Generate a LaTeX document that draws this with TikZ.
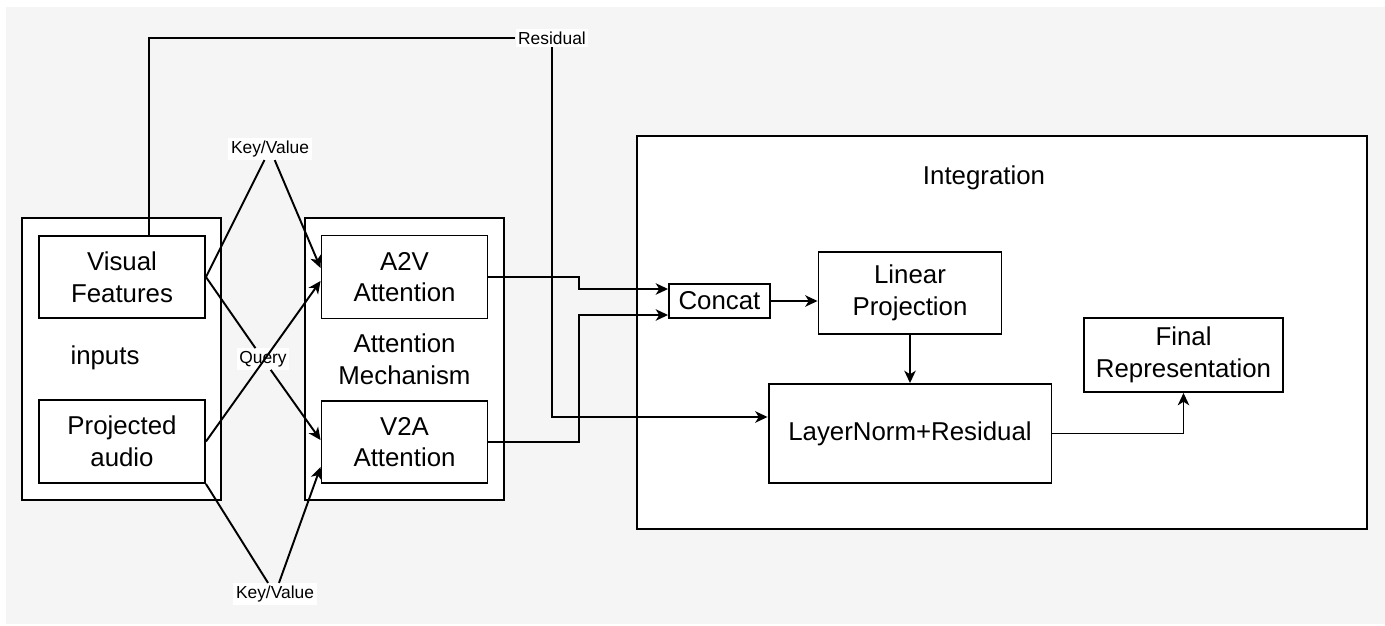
\documentclass[tikz,border=0pt]{standalone}
\usepackage{fontspec}
\setmainfont{Liberation Sans}
\usetikzlibrary{
  calc,
  arrows.meta
}
\definecolor{backdrop}{HTML}{F5F5F5}

\begin{document}
\begin{tikzpicture}[x=0.02cm, y=-0.02cm]
  \tikzset{
    block/.style = {draw, fill=white, line width=1.1pt, align=center,
      inner sep=0pt, font=\fontsize{14.7}{18}\selectfont},
    plain/.style = {align=center, inner sep=0pt,
      font=\fontsize{14.7}{18}\selectfont},
    tag/.style = {fill=white, inner sep=1.5pt,
      font=\fontsize{9.9}{12}\selectfont},
    conn/.style = {line width=1.1pt},
    arr/.style = {conn, -{Stealth[length=7pt,width=6.5pt,inset=2pt]}},
  }
  % page and grey backdrop
  \useasboundingbox (0,0) rectangle (1385,625);
  \fill[white] (0,0) rectangle (1385,625);
  \fill[backdrop] (6,7) rectangle (1385,624);

  % group boxes
  \node[block, minimum width=3.98cm, minimum height=5.64cm] (inbox) at (121.5,359) {};
  \node[block, minimum width=3.98cm, minimum height=5.64cm] (attbox) at (404.5,359) {};
  \node[block, minimum width=14.6cm, minimum height=7.86cm] (integ) at (1002,332.5) {};

  % inputs
  \node[block, minimum width=3.32cm, minimum height=1.64cm] (vf) at (122,277) {Visual\\Features};
  \node[block, minimum width=3.32cm, minimum height=1.66cm] (pa) at (122,441.5) {Projected\\audio};
  \node[plain] (intext) at (105,358) {inputs};

  % attention
  \node[block, minimum width=3.32cm, minimum height=1.66cm] (a2v) at (404.5,277) {A2V\\Attention};
  \node[block, minimum width=3.32cm, minimum height=1.64cm] (v2a) at (404.5,442) {V2A\\Attention};
  \node[plain] (atttext) at (404.5,359) {Attention\\Mechanism};

  % integration
  \node[plain] (integtext) at (984,178) {Integration};
  \node[block, minimum width=2.02cm, minimum height=0.68cm] (concat) at (719.5,301) {Concat};
  \node[block, minimum width=3.66cm, minimum height=1.64cm] (lin) at (910,293) {Linear\\Projection};
  \node[block, minimum width=5.66cm, minimum height=1.98cm] (ln) at (910,433.5) {LayerNorm+Residual};
  \node[block, minimum width=3.98cm, minimum height=1.48cm] (final) at (1183.5,355) {Final\\Representation};

  % edge labels
  \node[tag] (res) at (552,38) {Residual};
  \node[tag] (kv1) at (270,149) {Key/Value};
  \node[tag] (qry) at (263,359) {Query};
  \node[tag] (kv2) at (275,594) {Key/Value};

  % cross attention inputs
  \draw[arr] (vf.east) -- (kv1) -- ($(a2v.west)+(0,-9)$);
  \draw[arr] (vf.east) -- (qry) -- ($(v2a.west)+(0,-2)$);
  \draw[arr] (pa.east) -- ($(a2v.west)+(0,4)$);
  \draw[arr] (pa.south east) -- (kv2) -- ($(v2a.west)+(0,25)$);

  % residual path
  \draw[conn] ($(vf.north)+(27,0)$) |- (res);
  \draw[arr] (res) |- ($(ln.west)+(0,-16.5)$);

  % into concat and on
  \draw[arr] (a2v.east) -- ++(91,0) |- ($(concat.west)+(0,-12)$);
  \draw[arr] (v2a.east) -- ++(91,0) |- ($(concat.west)+(0,14)$);
  \draw[arr] (concat.east) -- (concat.east -| lin.west);
  \draw[arr] (lin) -- (ln);
  \draw[arr] (ln.east) -| (final.south);
\end{tikzpicture}
\end{document}
